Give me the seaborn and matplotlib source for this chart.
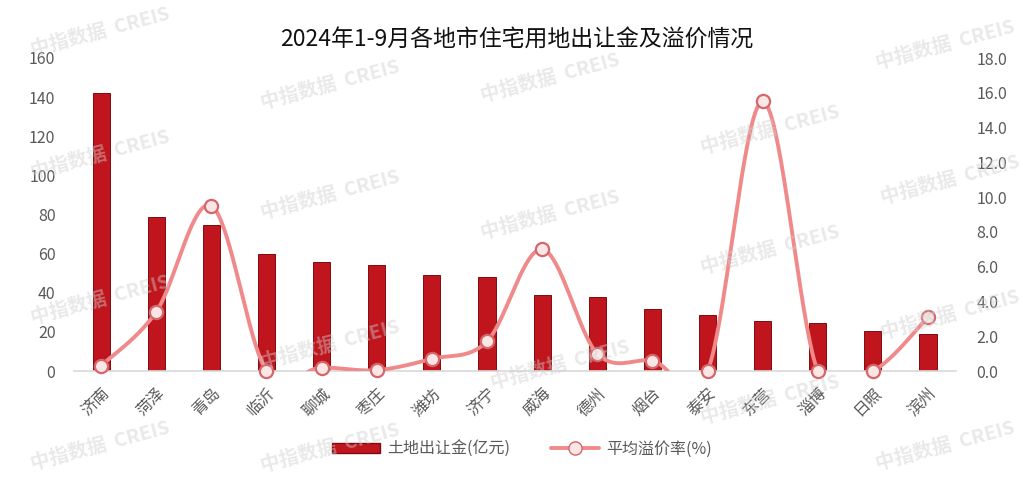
import numpy as np
import pandas as pd
import matplotlib
matplotlib.use("Agg")
import matplotlib.pyplot as plt
import seaborn as sns
from matplotlib.patches import Patch
from matplotlib.lines import Line2D

# ---- data ----
cities = ["济南", "菏泽", "青岛", "临沂", "聊城", "枣庄", "潍坊", "济宁",
          "威海", "德州", "烟台", "泰安", "东营", "淄博", "日照", "滨州"]
land_revenue = [142.1, 78.9, 74.6, 59.8, 55.9, 54.2, 49.1, 48.1,
                38.9, 37.8, 31.5, 28.6, 25.6, 24.4, 20.6, 18.9]
premium_rate = [0.3, 3.4, 9.5, 0.0, 0.2, 0.05, 0.7, 1.7,
                7.0, 1.0, 0.6, 0.0, 15.5, 0.0, 0.0, 3.1]
left_ticks = [0, 20, 40, 60, 80, 100, 120, 140, 160]
right_ticks = [0, 2, 4, 6, 8, 10, 12, 14, 16, 18]
title = "2024年1-9月各地市住宅用地出让金及溢价情况"
bar_label = "土地出让金(亿元)"
line_label = "平均溢价率(%)"
watermark = "中指数据  CREIS"

sns.set_theme(style="white")
plt.rcParams["font.family"] = ["Noto Sans CJK SC", "DejaVu Sans"]

W, H = 1023, 478
fig = plt.figure(figsize=(W / 100, H / 100), dpi=100)
ax = fig.add_axes([73.5 / W, 1 - 371 / H, (955.6 - 73.5) / W, (371 - 58) / H])

bar_face = "#C1151D"
bar_edge = "#7d0b10"
line_col = "#F08A8A"

df = pd.DataFrame({"city": cities, "revenue": land_revenue})
sns.barplot(data=df, x="city", y="revenue", ax=ax, color=bar_face,
            width=0.31, saturation=1, edgecolor=bar_edge, linewidth=0.7,
            zorder=2)
ax.set_xlim(-0.5, len(cities) - 0.5)
ax.set_ylim(0, 160)
ax.set_yticks(left_ticks)
ax.set_xlabel("")
ax.set_ylabel("")
for s in ["top", "right", "left"]:
    ax.spines[s].set_visible(False)
ax.spines["bottom"].set_color("#d9d9d9")
ax.spines["bottom"].set_linewidth(1.2)
ax.tick_params(axis="y", length=0, pad=13, labelsize=11.5, labelcolor="#595959")
ax.tick_params(axis="x", length=0, pad=10, labelsize=11.5, labelcolor="#595959")
for lab in ax.get_xticklabels():
    lab.set_rotation(45)
    lab.set_ha("right")
    lab.set_rotation_mode("anchor")

# secondary axis
ax2 = ax.twinx()
ax2.set_ylim(0, 18)
ax2.set_yticks(right_ticks)
ax2.set_yticklabels([f"{v:.1f}" for v in right_ticks])
for s in ["top", "right", "left", "bottom"]:
    ax2.spines[s].set_visible(False)
ax2.tick_params(axis="y", length=0, pad=15, labelsize=11.5, labelcolor="#595959")
ax2.grid(False)
ax.grid(False)

# smooth (Excel-like Catmull-Rom) line computed in pixel space
sx = (955.6 - 73.5) / len(cities)
sy = (371 - 58) / 18.0
xs = np.arange(len(cities)) * sx
ys = np.array(premium_rate) * sy
P = np.column_stack([xs, ys])
curve = []
t = np.linspace(0, 1, 40)
n = len(P)
for i in range(n - 1):
    p0 = P[i - 1] if i > 0 else P[i]
    p1 = P[i]
    p2 = P[i + 1]
    p3 = P[i + 2] if i + 2 < n else P[i + 1]
    c1 = p1 + (p2 - p0) / 6
    c2 = p2 - (p3 - p1) / 6
    seg = ((1 - t) ** 3)[:, None] * p1 + (3 * (1 - t) ** 2 * t)[:, None] * c1 \
        + (3 * (1 - t) * t ** 2)[:, None] * c2 + (t ** 3)[:, None] * p2
    curve.append(seg if i == 0 else seg[1:])
curve = np.vstack(curve)
cdf = pd.DataFrame({"x": curve[:, 0] / sx, "y": curve[:, 1] / sy})
sns.lineplot(data=cdf, x="x", y="y", ax=ax2, color=line_col, linewidth=2.8,
             sort=False, estimator=None, zorder=3)
ax2.plot(np.arange(len(cities)), premium_rate, linestyle="none", marker="o",
         markersize=9.5, markerfacecolor="#fbe6e6", markeredgecolor="#d4676b",
         markeredgewidth=1.6, zorder=4, clip_on=False)
ax2.set_xlabel("")
ax2.set_ylabel("")
ax2.set_xlim(-0.5, len(cities) - 0.5)

fig.text(517 / W, 1 - 40 / H, title, ha="center", va="center",
         fontsize=16.5, color="#111111")

handles = [Patch(facecolor=bar_face, edgecolor=bar_edge, label=bar_label),
           Line2D([0], [0], color=line_col, linewidth=2.8, marker="o",
                  markersize=9.5, markerfacecolor="#fbe6e6",
                  markeredgecolor="#d4676b", label=line_label)]
fig.legend(handles=handles, loc="center", bbox_to_anchor=(522 / W, 1 - 449 / H),
           ncol=2, frameon=False, fontsize=11.5, handlelength=3.0,
           handleheight=0.6, handletextpad=0.5,
           columnspacing=2.5, labelcolor="#595959")

# watermarks
wm = [(100, 32), (100, 155), (100, 300), (100, 446),
      (330, 85), (330, 195), (330, 345), (330, 448),
      (550, 78), (550, 215), (560, 365),
      (770, 130), (770, 250), (770, 400),
      (945, 45), (950, 180), (950, 315), (945, 446)]
for (x, y) in wm:
    fig.text(x / W, 1 - y / H, watermark, ha="center", va="center",
             rotation=15, fontsize=14, fontweight="bold", color="#cfcfcf",
             alpha=0.45, zorder=10)

fig.savefig("out.png", dpi=100, facecolor="white")
